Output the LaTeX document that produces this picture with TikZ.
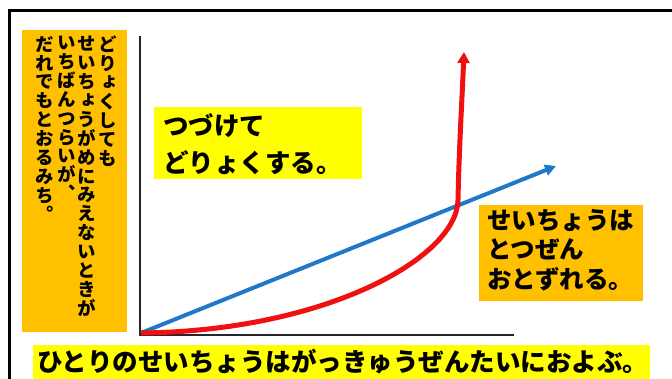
\documentclass[tikz,border=0pt]{standalone}
\usepackage{fontspec}
\usetikzlibrary{arrows.meta}
\newfontfamily\jp{Noto Sans CJK JP}
\newfontfamily\jpv{Noto Sans CJK JP}[RawFeature=+vert]
\definecolor{gold}{HTML}{FFC000}
\definecolor{ylw}{HTML}{FFFF00}
\definecolor{lineblue}{HTML}{1F78C8}
\definecolor{linered}{HTML}{F01010}
\tikzset{
  box/.style={inner sep=0pt, anchor=north west},
  jtext/.style={inner sep=0pt, anchor=west, font=\jp\bfseries, align=left},
  vcol/.style={inner sep=0pt, anchor=north, align=center,
    font=\jpv\bfseries\fontsize{18.5}{18.9}\selectfont},
  axisline/.style={line width=2pt, black!85},
  growth/.style={line width=4pt, lineblue, -{Triangle[length=11pt,width=11pt]}},
  jump/.style={line width=5pt, linered, -{Triangle[length=11pt,width=12pt]}},
}
\begin{document}
\begin{tikzpicture}[x=1pt,y=-1pt]
\useasboundingbox (0,0) rectangle (672,379);
% outer frame
\draw[line width=3pt] (9,420) -- (9,11) -- (700,11);
% left vertical note
\node[box, fill=gold, minimum width=105pt, minimum height=302pt] (vbox) at (22,30) {};
\node[vcol] (c1) at (108,36) {ど\\り\\ょ\\く\\し\\て\\も};
\node[vcol] (c2) at (87,36) {せ\\い\\ち\\ょ\\う\\が\\め\\に\\み\\え\\な\\い\\と\\き\\が};
\node[vcol] (c3) at (66.5,36) {い\\ち\\ば\\ん\\つ\\ら\\い\\が\\、};
\node[vcol] (c4) at (45,36) {だ\\れ\\で\\も\\と\\お\\る\\み\\ち\\。};
% axes
\coordinate (ytop) at (140,36);
\coordinate (corner) at (140,335);
\coordinate (xend) at (514,335);
\draw[axisline] (ytop) -- (corner) -- (xend);
% curves
\coordinate (O) at (141,333);
\coordinate (btip) at (556,166);
\coordinate (knee) at (458,200);
\coordinate (rtip) at (464,52);
\draw[growth] (O) -- (btip);
\draw[jump] (O) .. controls (325,331) and (457,258) .. (knee)
  .. controls (459,150) and (462,100) .. (rtip);
% yellow box
\node[box, fill=ylw, minimum width=208pt, minimum height=72pt] (ybox) at (154,107) {};
\node[jtext, font=\jp\bfseries\fontsize{25.5}{37}\selectfont, anchor=north west] (ytext) at (163,113)
  {つづけて\\どりょくする。};
% orange box right
\node[box, fill=gold, minimum width=164pt, minimum height=96pt] (obox) at (479,205) {};
\node[jtext, font=\jp\bfseries\fontsize{24.5}{29.5}\selectfont, anchor=north west] (otext) at (487,209)
  {せいちょうは\\とつぜん\\おとずれる。};
% bottom bar
\node[box, fill=ylw, minimum width=617pt, minimum height=40pt] (bbar) at (33,345) {};
\node[jtext, font=\jp\bfseries\fontsize{25.5}{30}\selectfont] (btext) at (37,362)
  {ひとりのせいちょうはがっきゅうぜんたいにおよぶ。};
\end{tikzpicture}
\end{document}
